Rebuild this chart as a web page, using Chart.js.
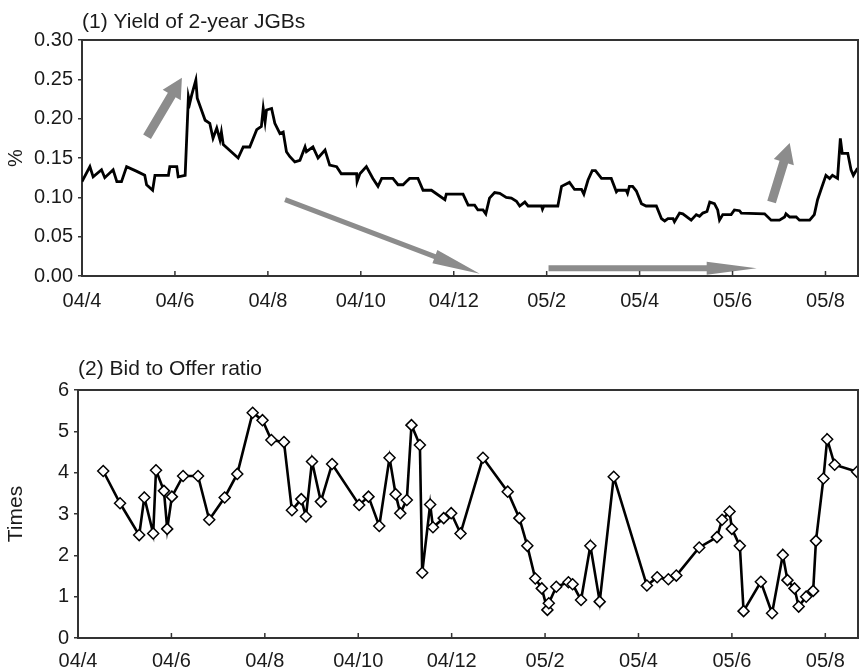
<!DOCTYPE html>
<html>
<head>
<meta charset="utf-8">
<script src="https://cdn.jsdelivr.net/npm/chart.js@4.4.0/dist/chart.umd.min.js"></script>
<style>
  body { margin: 0; background: #fff; }
  #wrap { position: relative; width: 859px; height: 671px; }
  .panel { position: absolute; left: 0; width: 859px; }
</style>
</head>
<body>
<div id="wrap">
  <div class="panel" style="top:0;height:310px"><canvas id="yieldChart"></canvas></div>
  <div class="panel" style="top:330px;height:341px"><canvas id="ratioChart"></canvas></div>
</div>
<script>
// --- axis ticks (x is months counted from 2004/4) ---
const tickPos = [0, 2, 4, 6, 8, 10, 12, 14, 16];
const tickLabels = ['04/4', '04/6', '04/8', '04/10', '04/12', '05/2', '05/4', '05/6', '05/8'];
const xMax = 16.7;

// --- (1) yield of 2-year JGBs, % ---
const yieldT = [0,0.17,0.24,0.42,0.49,0.67,0.75,0.85,0.96,1.18,
  1.35,1.39,1.52,1.57,1.86,1.89,2.04,2.07,2.22,2.29,
  2.32,2.36,2.45,2.48,2.65,2.75,2.82,2.90,2.97,3.00,
  3.04,3.36,3.47,3.61,3.76,3.86,3.90,3.94,3.97,4.08,
  4.15,4.26,4.33,4.40,4.47,4.58,4.69,4.80,4.83,4.97,
  5.08,5.23,5.33,5.48,5.58,5.91,5.92,5.98,6.12,6.26,
  6.37,6.45,6.69,6.80,6.91,6.98,7.05,7.23,7.34,7.52,
  7.81,7.84,8.20,8.31,8.45,8.52,8.63,8.69,8.77,8.88,
  8.99,9.13,9.24,9.35,9.42,9.53,9.60,9.89,9.91,9.94,
  10.24,10.32,10.49,10.60,10.75,10.80,10.89,10.98,11.05,11.18,
  11.39,11.50,11.53,11.71,11.74,11.78,11.85,11.93,12.04,12.14,
  12.36,12.47,12.54,12.61,12.72,12.75,12.86,12.93,13.11,13.22,
  13.29,13.36,13.45,13.51,13.61,13.68,13.72,13.79,13.97,14.04,
  14.15,14.19,14.69,14.83,15.01,15.12,15.15,15.23,15.37,15.44,
  15.66,15.76,15.83,15.91,16.01,16.09,16.15,16.26,16.32,16.36,
  16.48,16.55,16.60,16.69];
const yieldVal = [0.120,0.139,0.126,0.135,0.125,0.135,0.120,0.120,0.139,0.133,
  0.128,0.116,0.109,0.128,0.128,0.139,0.139,0.126,0.128,0.228,
  0.220,0.230,0.249,0.226,0.198,0.194,0.175,0.188,0.173,0.183,
  0.167,0.150,0.164,0.164,0.186,0.190,0.213,0.196,0.211,0.213,
  0.194,0.181,0.183,0.158,0.152,0.145,0.147,0.164,0.158,0.164,
  0.150,0.160,0.141,0.139,0.130,0.130,0.120,0.130,0.139,0.124,
  0.114,0.124,0.124,0.116,0.116,0.120,0.124,0.124,0.109,0.109,
  0.097,0.104,0.104,0.090,0.090,0.084,0.084,0.079,0.099,0.106,
  0.105,0.100,0.099,0.095,0.089,0.094,0.089,0.089,0.085,0.089,
  0.089,0.114,0.119,0.110,0.110,0.104,0.122,0.134,0.134,0.124,
  0.124,0.107,0.109,0.109,0.105,0.114,0.114,0.108,0.092,0.089,
  0.089,0.073,0.070,0.073,0.073,0.069,0.080,0.079,0.071,0.078,
  0.076,0.080,0.082,0.094,0.092,0.084,0.071,0.078,0.078,0.084,
  0.083,0.080,0.079,0.071,0.071,0.075,0.079,0.075,0.075,0.071,
  0.071,0.078,0.097,0.111,0.128,0.124,0.128,0.124,0.175,0.156,
  0.156,0.135,0.128,0.137];
const yieldTicks = [0, 0.05, 0.10, 0.15, 0.20, 0.25, 0.30];

// grey annotation arrows, in data units [month, %]
const yieldArrows = [
  { from: [1.40, 0.177], to: [2.15, 0.252], shaft: 9, headW: 21, headLen: 20 },
  { from: [4.37, 0.097], to: [8.56, 0.003], shaft: 5, headW: 14, headLen: 48 },
  { from: [10.04, 0.010], to: [14.52, 0.010], shaft: 6, headW: 13, headLen: 50 },
  { from: [14.84, 0.094], to: [15.23, 0.169], shaft: 9, headW: 21, headLen: 20 }
];

// --- (2) bid to offer ratio, times ---
const ratioT = [0.54,0.90,1.31,1.42,1.61,1.67,1.84,1.91,2.01,2.25,
  2.57,2.81,3.14,3.41,3.74,3.95,4.14,4.41,4.58,4.78,
  4.88,5.01,5.20,5.44,6.02,6.22,6.45,6.67,6.80,6.90,
  7.04,7.14,7.32,7.37,7.54,7.60,7.83,7.99,8.19,8.67,
  9.20,9.45,9.62,9.79,9.93,10.05,10.08,10.24,10.50,10.59,
  10.77,10.97,11.17,11.47,12.18,12.40,12.64,12.81,13.30,13.68,
  13.79,13.95,14.00,14.17,14.25,14.62,14.86,15.09,15.19,15.34,
  15.43,15.59,15.74,15.80,15.96,16.04,16.20,16.68];
const ratioVal = [4.04,3.26,2.49,3.40,2.53,4.06,3.56,2.64,3.42,3.92,
  3.92,2.86,3.40,3.97,5.45,5.27,4.79,4.74,3.09,3.36,
  2.94,4.27,3.30,4.21,3.22,3.42,2.71,4.36,3.48,3.02,
  3.34,5.15,4.67,1.58,3.23,2.68,2.90,3.02,2.53,4.36,
  3.54,2.90,2.23,1.44,1.20,0.68,0.84,1.24,1.35,1.30,
  0.92,2.23,0.88,3.90,1.27,1.47,1.42,1.51,2.19,2.44,
  2.86,3.06,2.64,2.23,0.65,1.36,0.60,2.01,1.40,1.20,
  0.76,1.00,1.14,2.35,3.86,4.81,4.19,4.02];
const ratioTicks = [0, 1, 2, 3, 4, 5, 6];

const FONT = '"Liberation Sans", Arial, Helvetica, sans-serif';
const INK = '#1a1a1a';
const AXIS = '#333';

// frame, inner x ticks, panel title and arrows
const panelPlugin = {
  id: 'panel',
  beforeDatasetsDraw(chart, args, opts) {
    const ctx = chart.ctx;
    const xs = chart.scales.x, ys = chart.scales.y;
    (opts.arrows || []).forEach(a => {
      const x1 = xs.getPixelForValue(a.from[0]), y1 = ys.getPixelForValue(a.from[1]);
      const x2 = xs.getPixelForValue(a.to[0]), y2 = ys.getPixelForValue(a.to[1]);
      const len = Math.hypot(x2 - x1, y2 - y1);
      ctx.save();
      ctx.translate(x1, y1);
      ctx.rotate(Math.atan2(y2 - y1, x2 - x1));
      ctx.fillStyle = '#8c8c8c';
      ctx.beginPath();
      ctx.moveTo(0, -a.shaft / 2);
      ctx.lineTo(len - a.headLen, -a.shaft / 2);
      ctx.lineTo(len - a.headLen, -a.headW / 2);
      ctx.lineTo(len, 0);
      ctx.lineTo(len - a.headLen, a.headW / 2);
      ctx.lineTo(len - a.headLen, a.shaft / 2);
      ctx.lineTo(0, a.shaft / 2);
      ctx.closePath();
      ctx.fill();
      ctx.restore();
    });
  },
  afterDraw(chart, args, opts) {
    const ctx = chart.ctx, ca = chart.chartArea;
    const xs = chart.scales.x;
    ctx.save();
    ctx.strokeStyle = AXIS;
    ctx.lineWidth = 2;
    ctx.beginPath();
    ctx.moveTo(ca.left, ca.top);
    ctx.lineTo(ca.right, ca.top);
    ctx.lineTo(ca.right, ca.bottom);
    ctx.stroke();
    ctx.lineWidth = 1.5;
    xs.ticks.forEach(t => {
      const px = xs.getPixelForValue(t.value);
      ctx.beginPath();
      ctx.moveTo(px, ca.bottom);
      ctx.lineTo(px, ca.bottom - 5);
      ctx.stroke();
    });
    ctx.fillStyle = INK;
    ctx.font = '21px ' + FONT;
    ctx.textAlign = 'left';
    ctx.textBaseline = 'alphabetic';
    ctx.fillText(opts.title, ca.left, ca.top - opts.titleGap);
    ctx.restore();
  }
};

function xScale(axisH, pad) {
  return {
    type: 'linear', min: 0, max: xMax,
    afterBuildTicks: s => { s.ticks = tickPos.map(v => ({ value: v })); },
    afterFit: s => { s.height = axisH; },
    grid: { display: false },
    border: { display: true, color: AXIS, width: 2 },
    ticks: {
      autoSkip: false, maxRotation: 0, padding: pad,
      color: INK, font: { family: FONT, size: 20 },
      callback: v => tickLabels[tickPos.indexOf(v)]
    }
  };
}

function yScale(ticksArr, axisW, title, titleSize, fmt) {
  return {
    type: 'linear', min: ticksArr[0], max: ticksArr[ticksArr.length - 1],
    afterBuildTicks: s => { s.ticks = ticksArr.map(v => ({ value: v })); },
    afterFit: s => { s.width = axisW; },
    grid: { drawOnChartArea: false, tickLength: 4, color: AXIS, lineWidth: 1.5 },
    border: { display: true, color: AXIS, width: 2 },
    title: { display: true, text: title, color: INK, font: { family: FONT, size: titleSize }, padding: 4 },
    ticks: { padding: 5, color: INK, font: { family: FONT, size: 20 }, callback: fmt }
  };
}

new Chart(document.getElementById('yieldChart'), {
  type: 'line',
  data: {
    datasets: [{
      data: yieldT.map((t, i) => ({ x: t, y: yieldVal[i] })),
      borderColor: '#000', borderWidth: 2.8, pointRadius: 0, tension: 0, fill: false
    }]
  },
  options: {
    responsive: true, maintainAspectRatio: false, animation: false,
    layout: { autoPadding: false, padding: { top: 40, right: 1, left: 0, bottom: 0 } },
    plugins: {
      legend: { display: false }, tooltip: { enabled: false },
      panel: { title: '(1) Yield of 2-year JGBs', titleGap: 12, arrows: yieldArrows }
    },
    scales: {
      x: xScale(34, 5),
      y: yScale(yieldTicks, 82, '%', 20, v => v.toFixed(2))
    }
  },
  plugins: [panelPlugin]
});

new Chart(document.getElementById('ratioChart'), {
  type: 'line',
  data: {
    datasets: [{
      data: ratioT.map((t, i) => ({ x: t, y: ratioVal[i] })),
      borderColor: '#000', borderWidth: 2.6, tension: 0, fill: false,
      pointStyle: 'rectRot', pointRadius: 5.5,
      pointBackgroundColor: '#fff', pointBorderColor: '#000', pointBorderWidth: 1.5
    }]
  },
  options: {
    responsive: true, maintainAspectRatio: false, animation: false,
    layout: { autoPadding: false, padding: { top: 60, right: 1, left: 0, bottom: 0 } },
    plugins: {
      legend: { display: false }, tooltip: { enabled: false },
      panel: { title: '(2) Bid to Offer ratio', titleGap: 15, arrows: [] }
    },
    scales: {
      x: xScale(33, 3),
      y: yScale(ratioTicks, 78, 'Times', 21, v => String(v))
    }
  },
  plugins: [panelPlugin]
});
</script>
</body>
</html>
